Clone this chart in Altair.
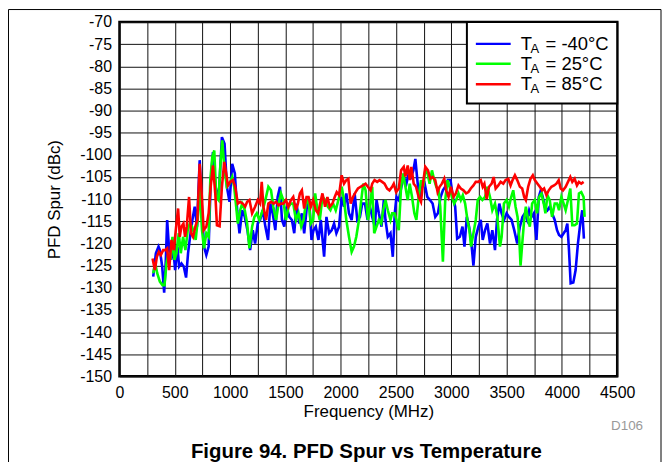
import altair as alt
import pandas as pd

# ---------------- data ----------------
freq_m40 = [305, 329, 353, 365, 386, 404, 419, 431, 449, 467, 485, 503, 524, 539, 560, 581, 602, 620, 638, 659,
            680, 701, 725, 743, 764, 785, 806, 824, 845, 869, 896, 926, 950, 971, 995, 1019, 1043, 1064, 1085, 1109,
            1133, 1157, 1181, 1205, 1226, 1250, 1271, 1295, 1319, 1343, 1364, 1385, 1409, 1430, 1451, 1469, 1490, 1511, 1535, 1559,
            1580, 1601, 1625, 1649, 1670, 1694, 1715, 1736, 1754, 1775, 1799, 1820, 1850, 1871, 1895, 1919, 1940, 1961, 1985, 2009,
            2030, 2051, 2075, 2099, 2126, 2150, 2174, 2195, 2219, 2243, 2264, 2285, 2309, 2324, 2345, 2369, 2390, 2405, 2426, 2450,
            2471, 2489, 2504, 2525, 2549, 2570, 2594, 2615, 2636, 2657, 2675, 2693, 2711, 2735, 2759, 2783, 2807, 2831, 2855, 2879,
            2903, 2924, 2945, 2969, 2993, 3014, 3035, 3053, 3077, 3101, 3119, 3140, 3161, 3179, 3200, 3221, 3245, 3266, 3284, 3305,
            3326, 3350, 3371, 3395, 3413, 3434, 3455, 3476, 3500, 3521, 3545, 3569, 3596, 3620, 3644, 3665, 3686, 3704, 3725, 3746,
            3770, 3791, 3809, 3827, 3845, 3869, 3890, 3911, 3935, 3956, 3974, 3995, 4016, 4034, 4049, 4064, 4079, 4103, 4124, 4145,
            4166, 4184, 4199]
spur_m40 = [-127.5, -122.2, -120.7, -121.5, -125.2, -131.1, -123.7, -114.7, -121.5, -123.7, -120.7, -126.0, -120.7, -125.2, -124.5, -125.2, -127.7, -122.2, -118.5, -114.7,
            -111.7, -116.2, -101.2, -111.0, -120.7, -122.6, -120.7, -106.5, -99.4, -107.2, -110.2, -96.0, -97.5, -107.2, -110.6, -102.0, -104.2, -112.5, -117.7, -112.5,
            -114.0, -117.0, -121.5, -117.0, -120.0, -115.5, -114.7, -112.5, -116.2, -119.2, -111.0, -113.2, -117.0, -109.5, -107.2, -114.7, -116.2, -111.7, -114.0, -114.7,
            -117.7, -111.0, -115.5, -113.2, -117.7, -111.7, -110.2, -119.2, -117.0, -116.2, -119.2, -114.7, -123.0, -114.0, -117.7, -117.0, -115.5, -117.7, -116.2, -109.5,
            -111.7, -108.7, -113.2, -114.7, -108.7, -114.7, -114.0, -111.0, -111.0, -114.7, -111.7, -114.0, -116.2, -110.2, -113.2, -116.2, -110.2, -114.7, -118.5, -117.7,
            -123.0, -113.2, -109.5, -110.2, -107.2, -105.0, -106.5, -104.2, -105.0, -103.5, -100.9, -105.7, -110.2, -107.2, -106.5, -109.5, -110.2, -111.0, -114.0, -113.2,
            -109.5, -108.0, -107.2, -105.7, -105.7, -109.5, -111.7, -118.9, -118.5, -116.2, -120.7, -114.0, -116.2, -119.2, -125.0, -118.5, -116.2, -114.7, -119.2, -117.0,
            -115.5, -120.0, -117.0, -121.5, -114.7, -111.0, -113.2, -114.7, -113.2, -114.0, -114.7, -117.0, -120.0, -116.2, -114.0, -113.2, -114.7, -112.5, -114.0, -113.2,
            -119.2, -109.5, -108.0, -109.5, -111.7, -112.5, -111.7, -113.2, -114.7, -117.0, -118.1, -118.5, -117.7, -117.0, -115.5, -121.5, -129.0, -128.8, -126.0, -120.0,
            -115.5, -112.5, -118.9]

freq_25 = [305, 323, 341, 365, 389, 407, 425, 443, 461, 479, 497, 515, 536, 554, 575, 596, 617, 635, 656, 674,
           689, 707, 725, 746, 764, 785, 806, 821, 839, 857, 875, 896, 911, 929, 950, 971, 995, 1019, 1037, 1055,
           1070, 1091, 1109, 1133, 1154, 1175, 1199, 1220, 1241, 1265, 1295, 1319, 1346, 1370, 1391, 1415, 1439, 1460, 1481, 1505,
           1529, 1550, 1571, 1595, 1619, 1643, 1664, 1685, 1709, 1730, 1751, 1769, 1790, 1811, 1835, 1859, 1883, 1907, 1931, 1955,
           1979, 2009, 2030, 2051, 2075, 2099, 2120, 2141, 2165, 2186, 2204, 2225, 2246, 2264, 2285, 2303, 2324, 2345, 2366, 2384,
           2405, 2426, 2450, 2465, 2486, 2504, 2525, 2546, 2564, 2585, 2606, 2624, 2645, 2666, 2684, 2705, 2726, 2747, 2765, 2786,
           2804, 2825, 2846, 2864, 2885, 2900, 2924, 2945, 2966, 2984, 3005, 3026, 3044, 3065, 3086, 3104, 3125, 3146, 3164, 3179,
           3200, 3221, 3239, 3260, 3281, 3305, 3326, 3350, 3371, 3395, 3416, 3440, 3455, 3476, 3500, 3521, 3542, 3560, 3581, 3599,
           3614, 3626, 3644, 3659, 3674, 3695, 3710, 3731, 3755, 3776, 3794, 3815, 3836, 3851, 3869, 3890, 3911, 3935, 3956, 3974,
           3995, 4016, 4034, 4055, 4076, 4094, 4115, 4136, 4154, 4175, 4196, 4205]
spur_25 = [-126.7, -124.5, -126.7, -128.6, -129.4, -129.4, -124.5, -122.2, -123.7, -118.5, -123.7, -122.2, -117.7, -122.2, -118.5, -121.5, -117.0, -115.5, -116.2, -117.7,
           -119.2, -114.7, -107.2, -117.0, -121.1, -117.7, -118.5, -105.7, -100.5, -99.0, -109.5, -110.2, -102.7, -96.7, -103.5, -107.2, -106.5, -105.0, -107.2, -111.7,
           -115.5, -112.5, -111.0, -112.5, -115.5, -121.1, -116.2, -114.0, -113.2, -114.7, -112.5, -110.2, -107.2, -108.0, -111.7, -114.7, -111.0, -108.7, -110.2, -114.7,
           -111.7, -111.0, -111.0, -114.7, -113.2, -116.2, -114.7, -111.0, -110.2, -115.5, -114.7, -108.7, -112.5, -114.7, -109.5, -110.2, -111.7, -112.5, -111.0, -112.5,
           -110.2, -107.2, -110.2, -114.7, -118.5, -121.9, -120.7, -118.5, -114.7, -110.2, -106.5, -108.0, -114.7, -111.7, -107.2, -117.7, -116.2, -114.7, -115.5, -112.5,
           -110.2, -112.5, -114.7, -113.2, -113.2, -114.7, -117.0, -107.2, -104.2, -107.2, -110.2, -106.5, -109.5, -113.2, -114.7, -109.5, -105.7, -107.2, -103.5, -104.2,
           -106.5, -103.5, -105.7, -107.2, -108.0, -111.7, -124.1, -110.2, -105.7, -107.2, -109.5, -111.0, -110.2, -108.7, -110.2, -109.1, -111.0, -114.7, -117.0, -120.7,
           -117.7, -114.7, -110.2, -109.5, -110.2, -109.5, -107.2, -109.5, -112.5, -111.0, -114.0, -120.7, -118.5, -111.0, -110.2, -111.7, -109.5, -108.0, -111.7, -114.0,
           -118.5, -125.0, -119.2, -114.7, -111.7, -114.7, -116.2, -111.0, -110.2, -113.2, -109.5, -108.7, -111.0, -113.2, -109.1, -110.2, -114.0, -111.0, -111.0, -112.5,
           -109.5, -111.0, -112.5, -110.2, -107.6, -115.9, -115.9, -115.5, -108.7, -108.4, -109.5, -114.0]

freq_85 = [299, 320, 338, 356, 374, 395, 413, 431, 449, 470, 491, 509, 530, 545, 560, 578, 593, 608, 629, 647,
           665, 686, 704, 725, 743, 761, 785, 806, 824, 845, 866, 881, 905, 926, 947, 965, 980, 1001, 1025, 1046,
           1070, 1091, 1115, 1136, 1154, 1175, 1199, 1226, 1250, 1271, 1286, 1301, 1325, 1346, 1370, 1394, 1415, 1439, 1460, 1481,
           1505, 1526, 1550, 1571, 1595, 1613, 1631, 1649, 1670, 1691, 1709, 1730, 1751, 1775, 1796, 1814, 1835, 1859, 1880, 1901,
           1925, 1946, 1964, 1985, 2009, 2030, 2051, 2069, 2090, 2111, 2135, 2156, 2180, 2201, 2225, 2246, 2270, 2285, 2306, 2330,
           2351, 2375, 2396, 2420, 2441, 2465, 2480, 2501, 2525, 2546, 2570, 2585, 2606, 2624, 2639, 2660, 2681, 2705, 2726, 2744,
           2765, 2789, 2810, 2831, 2855, 2876, 2894, 2915, 2936, 2954, 2975, 2996, 3020, 3041, 3065, 3086, 3110, 3134, 3155, 3176,
           3200, 3221, 3245, 3266, 3284, 3299, 3320, 3341, 3365, 3383, 3401, 3425, 3446, 3470, 3491, 3515, 3536, 3554, 3575, 3596,
           3620, 3641, 3659, 3674, 3695, 3716, 3737, 3755, 3779, 3800, 3821, 3839, 3860, 3881, 3905, 3929, 3950, 3971, 3989, 4010,
           4034, 4055, 4076, 4094, 4115, 4136, 4154, 4175, 4196]
spur_85 = [-123.4, -126.0, -123.0, -121.9, -122.6, -121.5, -121.5, -121.1, -126.0, -119.2, -121.5, -117.0, -112.1, -118.5, -116.2, -115.5, -118.5, -116.2, -109.5, -117.7,
           -118.5, -116.2, -114.7, -102.0, -108.7, -117.0, -116.2, -113.2, -107.2, -102.4, -108.7, -115.9, -116.1, -107.2, -101.6, -104.2, -106.9, -106.1, -105.7, -107.2,
           -111.0, -110.6, -111.0, -111.7, -110.6, -110.2, -113.2, -111.7, -110.2, -111.0, -106.1, -111.7, -114.7, -111.0, -110.6, -111.0, -110.6, -111.4, -111.0, -111.0,
           -110.2, -111.7, -110.2, -109.5, -112.5, -111.0, -108.7, -108.0, -112.1, -109.5, -109.5, -111.7, -110.2, -112.5, -113.2, -111.0, -108.7, -111.7, -109.5, -111.7,
           -111.0, -109.5, -108.4, -109.1, -104.6, -106.5, -105.7, -105.4, -111.0, -109.5, -108.4, -107.6, -107.2, -106.9, -106.5, -107.2, -108.0, -106.5, -105.7, -106.1,
           -105.7, -106.1, -106.5, -107.6, -108.0, -107.2, -106.5, -108.4, -107.6, -103.5, -102.7, -104.9, -102.4, -105.7, -102.7, -106.5, -107.2, -109.5, -110.6, -106.5,
           -102.7, -103.5, -105.4, -105.0, -105.7, -108.4, -107.2, -106.5, -105.4, -108.0, -109.5, -107.2, -109.5, -108.7, -106.9, -107.6, -108.0, -108.7, -108.4, -107.6,
           -106.9, -106.1, -106.1, -105.7, -107.2, -106.5, -109.9, -107.2, -106.5, -105.0, -107.6, -106.9, -106.1, -106.5, -105.7, -105.4, -106.9, -105.7, -104.6, -105.7,
           -107.2, -107.6, -109.5, -110.2, -107.2, -105.4, -104.6, -105.7, -106.5, -107.2, -108.0, -107.6, -109.1, -108.0, -107.2, -106.9, -106.5, -105.7, -107.6, -108.0,
           -107.2, -106.1, -105.0, -106.1, -105.4, -106.9, -106.1, -106.5, -106.1]

series_names = ["-40", "25", "85"]
series_colors = ["#0000FF", "#00FF00", "#FF0000"]

x_ticks = list(range(0, 4501, 250))
y_ticks = list(range(-150, -69, 5))

FONT = "Liberation Sans"
W, H = 500, 356

def series_df(f, s, name):
    return pd.DataFrame({"freq": f, "spur": s, "series": name})

x_enc = alt.X("freq:Q", scale=alt.Scale(domain=[0, 4500], nice=False, zero=False),
              axis=alt.Axis(values=x_ticks, title="Frequency (MHz)",
                            labelExpr="datum.value % 500 === 0 ? '' + datum.value : ''"))
y_enc = alt.Y("spur:Q", scale=alt.Scale(domain=[-150, -70], nice=False, zero=False),
              axis=alt.Axis(values=y_ticks, title="PFD Spur (dBc)", labelExpr="'' + datum.value"))

layers = []
for (f, s), name, col in zip([(freq_m40, spur_m40), (freq_25, spur_25), (freq_85, spur_85)],
                             series_names, series_colors):
    layers.append(alt.Chart(series_df(f, s, name)).mark_line(color=col, strokeWidth=2.6, clip=True)
                  .encode(x=x_enc, y=y_enc))

one = pd.DataFrame({"a": [0]})

# legend box
layers.append(alt.Chart(one).mark_rect(fill="white", stroke="black", strokeWidth=2)
              .encode(x=alt.value(349), x2=alt.value(500), y=alt.value(0), y2=alt.value(82)))
row_y = [22, 42, 62.5]
for ry, name, col in zip(row_y, series_names, series_colors):
    layers.append(alt.Chart(one).mark_rule(color=col, strokeWidth=2.4)
                  .encode(x=alt.value(358), x2=alt.value(393), y=alt.value(ry)))
    layers.append(alt.Chart(one).mark_text(text="T", font=FONT, fontSize=18.5, align="left", baseline="middle", color="black")
                  .encode(x=alt.value(403), y=alt.value(ry)))
    layers.append(alt.Chart(one).mark_text(text="A", font=FONT, fontSize=13, align="left", baseline="middle", color="black")
                  .encode(x=alt.value(413), y=alt.value(ry + 5)))
    layers.append(alt.Chart(one).mark_text(text="= " + name + "°C", font=FONT, fontSize=18.5, align="left", baseline="middle", color="black")
                  .encode(x=alt.value(428), y=alt.value(ry)))

# caption and code
layers.append(alt.Chart(one).mark_text(text="Figure 94. PFD Spur vs Temperature", font=FONT, fontSize=20.5,
                                       fontWeight="bold", align="center", baseline="middle", color="black")
              .encode(x=alt.value(248), y=alt.value(432)))
layers.append(alt.Chart(one).mark_text(text="D106", font=FONT, fontSize=13.5, align="right", baseline="middle", color="#999999")
              .encode(x=alt.value(526), y=alt.value(406)))
# outer figure frame
layers.append(alt.Chart(one).mark_rect(fill=None, fillOpacity=0, stroke="black", strokeWidth=1)
              .encode(x=alt.value(-111.5), x2=alt.value(544), y=alt.value(-12.5), y2=alt.value(460)))

chart = alt.layer(*layers).properties(
    width=W, height=H,
    autosize=alt.AutoSizeParams(type="none"),
    padding={"left": 112, "top": 13, "right": 46, "bottom": 85},
).configure_view(
    stroke="black", strokeWidth=2.5
).configure_axis(
    grid=True, gridColor="#111111", gridWidth=1, gridOpacity=1,
    domain=False, ticks=False,
    labelFont=FONT, labelFontSize=16, labelColor="black",
    titleFont=FONT, titleFontSize=17, titleFontWeight="normal", titleColor="black",
).configure_axisX(
    labelPadding=8, titlePadding=3, labelFlush=False,
).configure_axisY(
    labelPadding=8, titlePadding=16,
)

chart.save("out.html", embed_options={"renderer": "svg", "actions": False})
